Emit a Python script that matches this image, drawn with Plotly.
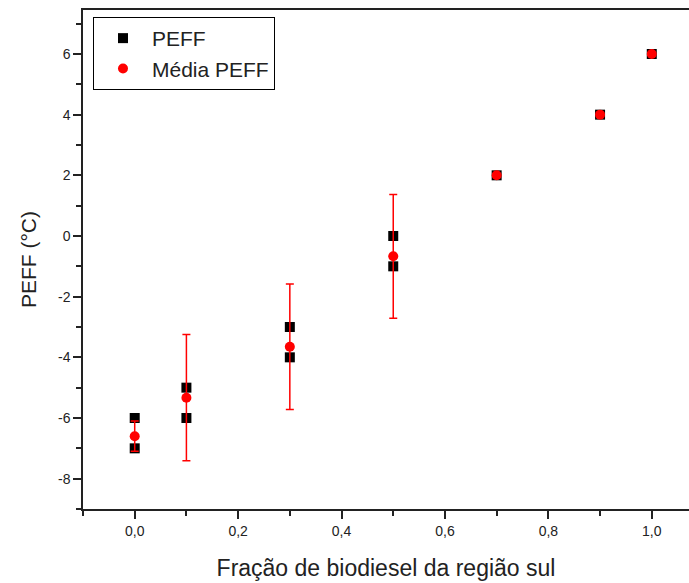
import plotly.graph_objects as go

# Data
peff_x = [0.0, 0.0, 0.1, 0.1, 0.3, 0.3, 0.5, 0.5, 0.7, 0.9, 1.0]
peff_y = [-6, -7, -5, -6, -3, -4, 0, -1, 2, 4, 6]

mean_x = [0.0, 0.1, 0.3, 0.5, 0.7, 0.9, 1.0]
mean_y = [-6.6, -5.33, -3.65, -0.67, 2, 4, 6]
mean_err = [0.5, 2.08, 2.07, 2.04, 0, 0, 0]

x_ticks = [0.0, 0.2, 0.4, 0.6, 0.8, 1.0]
x_tick_labels = ["0,0", "0,2", "0,4", "0,6", "0,8", "1,0"]
y_ticks = [-8, -6, -4, -2, 0, 2, 4, 6]
y_tick_labels = ["-8", "-6", "-4", "-2", "0", "2", "4", "6"]

FONT = "Liberation Sans, Arial, sans-serif"

fig = go.Figure()
fig.add_trace(go.Scatter(
    x=peff_x, y=peff_y, mode="markers", name="PEFF",
    marker=dict(symbol="square", size=10, color="black"),
))
fig.add_trace(go.Scatter(
    x=mean_x, y=mean_y, mode="markers", name="Média PEFF",
    marker=dict(symbol="circle", size=10, color="red"),
    error_y=dict(type="data", array=mean_err, visible=True, color="red",
                 thickness=1.5, width=4),
))

axis_common = dict(
    showline=True, linecolor="#222", linewidth=1.5,
    ticks="outside", ticklen=8, tickwidth=1.5, tickcolor="#222",
    showgrid=False, zeroline=False,
    tickfont=dict(family=FONT, size=14, color="#222"),
)

fig.update_xaxes(
    **axis_common, range=[-0.1, 1.072], tickvals=x_ticks, ticktext=x_tick_labels,
    mirror=True,
    minor=dict(dtick=0.1, tick0=0, ticks="outside", ticklen=5, tickwidth=1.5, tickcolor="#222"),
    title=dict(text="Fração de biodiesel da região sul", font=dict(family=FONT, size=23, color="#222"), standoff=22),
)
fig.update_yaxes(
    **axis_common, range=[-9, 7.45], tickvals=y_ticks, ticktext=y_tick_labels,
    minor=dict(dtick=1, tick0=0, ticks="outside", ticklen=5, tickwidth=1.5, tickcolor="#222"),
    title=dict(text="PEFF (°C)", font=dict(family=FONT, size=21, color="#222"), standoff=16),
)

fig.update_layout(
    width=689, height=583,
    margin=dict(l=83, r=0, t=10, b=74),
    plot_bgcolor="white", paper_bgcolor="white",
    showlegend=True,
    legend=dict(x=0.0165, y=0.986, xanchor="left", yanchor="top",
                bordercolor="black", borderwidth=1, bgcolor="white",
                font=dict(family=FONT, size=21, color="#222"),
                tracegroupgap=0, itemwidth=48),
)

fig.write_html("out.html")
